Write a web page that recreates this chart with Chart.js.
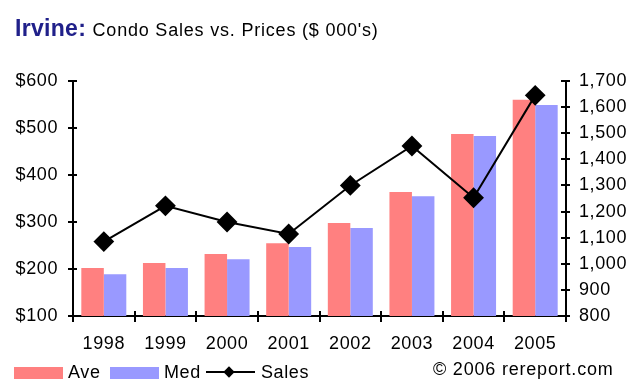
<!DOCTYPE html>
<html>
<head>
<meta charset="utf-8">
<script src="https://cdn.jsdelivr.net/npm/chart.js@4.4.1/dist/chart.umd.min.js"></script>
<style>
  html, body { margin: 0; padding: 0; background: #fff; }
  #wrap { position: relative; width: 640px; height: 389px; overflow: hidden; font-family: "Liberation Sans", Arial, sans-serif; color: #000; }
  #chart { position: absolute; left: 0; top: 0; }
  .title { position: absolute; left: 15px; top: 17px; font-size: 23px; line-height: 23px; white-space: nowrap; }
  .title b { color: #20208a; letter-spacing: 0.3px; }
  .title span { font-size: 18px; letter-spacing: 0.8px; }
  .lg { position: absolute; font-size: 18px; line-height: 18px; top: 363px; white-space: nowrap; letter-spacing: 0.6px; }
  .box { position: absolute; top: 367px; height: 12px; width: 49px; }
  .ln { position: absolute; left: 206px; top: 371px; width: 49px; height: 2px; background: #000; }
  .dm { position: absolute; left: 225px; top: 368px; width: 8px; height: 8px; background: #000; transform: rotate(45deg); }
</style>
</head>
<body>
<div id="wrap">
  <canvas id="chart" width="640" height="389"></canvas>
  <div class="title"><b>Irvine:</b> <span>Condo Sales vs. Prices ($ 000's)</span></div>
  <div class="box" style="left:14px;background:#ff8080"></div>
  <div class="lg" style="left:68px">Ave</div>
  <div class="box" style="left:110px;background:#9999ff"></div>
  <div class="lg" style="left:164px">Med</div>
  <div class="ln"></div><div class="dm"></div>
  <div class="lg" style="left:261px">Sales</div>
  <div class="lg" style="left:433px;top:360px;letter-spacing:0.8px">© 2006 rereport.com</div>
</div>
<script>
const years = ['1998', '1999', '2000', '2001', '2002', '2003', '2004', '2005'];
const avePrice = [202, 213, 232, 255, 298, 364, 487, 560];
const medPrice = [189, 202, 221, 247, 287, 355, 483, 549];
const sales = [1085, 1222, 1160, 1114, 1300, 1451, 1253, 1645];

// ticks que cruzan el eje (Excel style)
const innerTicks = {
  id: 'innerTicks',
  beforeDraw(chart) {
    chart.ctx.letterSpacing = '0.6px';
  },
  afterDraw(chart) {
    const c = chart.ctx;
    c.save();
    c.strokeStyle = '#000';
    c.lineWidth = 2;
    const x = chart.scales.x;
    const step = x.getPixelForValue(1) - x.getPixelForValue(0);
    const x0 = x.getPixelForValue(0) - step / 2;
    for (let i = 0; i <= years.length; i++) {
      const px = Math.round(x0 + i * step);
      c.beginPath(); c.moveTo(px, x.top); c.lineTo(px, x.top - 5); c.stroke();
    }
    const yl = chart.scales.y;
    yl.ticks.forEach((t, i) => {
      const py = Math.round(yl.getPixelForTick(i));
      c.beginPath(); c.moveTo(yl.right, py); c.lineTo(yl.right + 4, py); c.stroke();
    });
    const yr = chart.scales.y2;
    yr.ticks.forEach((t, i) => {
      const py = Math.round(yr.getPixelForTick(i));
      c.beginPath(); c.moveTo(yr.left, py); c.lineTo(yr.left - 5, py); c.stroke();
    });
    c.restore();
  }
};

const tickFont = { family: 'Liberation Sans', size: 18 };

new Chart(document.getElementById('chart'), {
  type: 'bar',
  data: {
    labels: years,
    datasets: [
      {
        type: 'line',
        label: 'Sales',
        data: sales,
        yAxisID: 'y2',
        borderColor: '#000',
        borderWidth: 2,
        backgroundColor: '#000',
        pointStyle: 'rectRot',
        pointRadius: 9,
        pointBackgroundColor: '#000',
        tension: 0,
        order: 0
      },
      {
        label: 'Ave',
        data: avePrice,
        yAxisID: 'y',
        backgroundColor: '#ff8080',
        categoryPercentage: 0.73,
        barPercentage: 1,
        order: 1
      },
      {
        label: 'Med',
        data: medPrice,
        yAxisID: 'y',
        backgroundColor: '#9999ff',
        categoryPercentage: 0.73,
        barPercentage: 1,
        order: 1
      }
    ]
  },
  options: {
    responsive: false,
    animation: false,
    layout: { padding: { top: 81, left: 0, right: 0, bottom: 0 } },
    scales: {
      x: {
        afterFit(s) { s.height = 73; },
        border: { display: true, color: '#000', width: 2 },
        grid: { display: true, drawOnChartArea: false, color: '#000', lineWidth: 2, tickLength: 6, offset: true },
        ticks: { color: '#000', font: tickFont, padding: 11, maxRotation: 0 }
      },
      y: {
        position: 'left',
        min: 100,
        max: 600,
        afterFit(s) { s.width = 73; },
        border: { display: true, color: '#000', width: 2 },
        grid: { display: true, drawOnChartArea: false, color: '#000', lineWidth: 2, tickLength: 5 },
        ticks: { stepSize: 100, color: '#000', font: tickFont, padding: 10, callback: v => '$' + v }
      },
      y2: {
        position: 'right',
        min: 800,
        max: 1700,
        afterFit(s) { s.width = 74; },
        border: { display: true, color: '#000', width: 2 },
        grid: { display: true, drawOnChartArea: false, color: '#000', lineWidth: 2, tickLength: 4 },
        ticks: { stepSize: 100, color: '#000', font: tickFont, padding: 9, callback: v => v.toLocaleString('en-US') }
      }
    },
    plugins: {
      legend: { display: false },
      tooltip: { enabled: false }
    }
  },
  plugins: [innerTicks]
});
</script>
</body>
</html>
